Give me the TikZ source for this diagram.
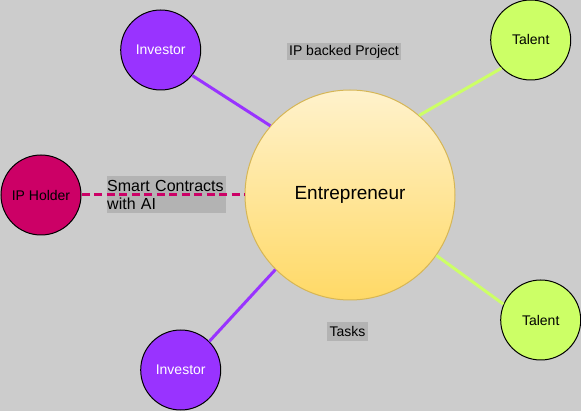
\documentclass[tikz,border=0pt]{standalone}
\usepackage{fontspec}
\setmainfont{Liberation Sans}
\definecolor{bg}{HTML}{CCCCCC}
\definecolor{purp}{HTML}{9933FF}
\definecolor{mag}{HTML}{CC0066}
\definecolor{lime}{HTML}{CCFF66}
\definecolor{ylight}{HTML}{FFF2CC}
\definecolor{ydark}{HTML}{FFD966}
\definecolor{yborder}{HTML}{D6B656}
\definecolor{lblbg}{HTML}{B3B3B3}
\tikzset{
  smallcirc/.style={circle, draw=black, line width=1pt, minimum size=80pt, inner sep=0pt, font=\fontsize{14}{16}\selectfont},
  investor/.style={smallcirc, fill=purp, text=white},
  talent/.style={smallcirc, fill=lime, text=black},
  holder/.style={smallcirc, fill=mag, text=black},
  entre/.style={circle, draw=yborder, line width=1pt, minimum size=210pt, inner sep=0pt, top color=ylight, bottom color=ydark, shading angle=0, font=\fontsize{19}{22}\selectfont},
  lbl/.style={fill=lblbg, inner sep=0pt, font=\fontsize{14}{16}\selectfont},
  purpline/.style={draw=purp, line width=3pt},
  limeline/.style={draw=lime, line width=3pt},
  magline/.style={draw=mag, line width=3pt, dash pattern=on 8pt off 4.5pt},
}
\begin{document}
\begin{tikzpicture}[x=1pt, y=-1pt]
\fill[bg] (0,0) rectangle (581,411);
\useasboundingbox (0,0) rectangle (581,411);

\node[entre] (ent) at (350,195) {Entrepreneur};
\node[investor] (inv1) at (160.7,50) {Investor};
\node[investor] (inv2) at (180.7,370) {Investor};
\node[talent] (tal1) at (530.7,40) {Talent};
\node[talent] (tal2) at (540.7,320) {Talent};
\node[holder] (iph) at (41,195) {IP Holder};

\node[lbl, minimum width=114pt, minimum height=17pt] (lab1) at (344,51.7) {IP backed Project};
\node[lbl, minimum width=41.6pt, minimum height=18.4pt] (lab2) at (347.5,331.5) {Tasks};
\node[lbl, anchor=north west, minimum width=119pt, minimum height=37.3pt, text width=119pt, align=left, font=\fontsize{16}{18.6}\selectfont] (lab3) at (107,176) {Smart Contracts\\with AI};

\draw[purpline] (inv1.-39) -- (ent.139);
\draw[purpline] (inv2.45) -- (ent.-135);
\draw[limeline] (tal1.-136) -- (ent.49);
\draw[limeline] (tal2.157) -- (ent.-35);
\draw[magline] (iph.east) -- (ent.west);
\end{tikzpicture}
\end{document}
